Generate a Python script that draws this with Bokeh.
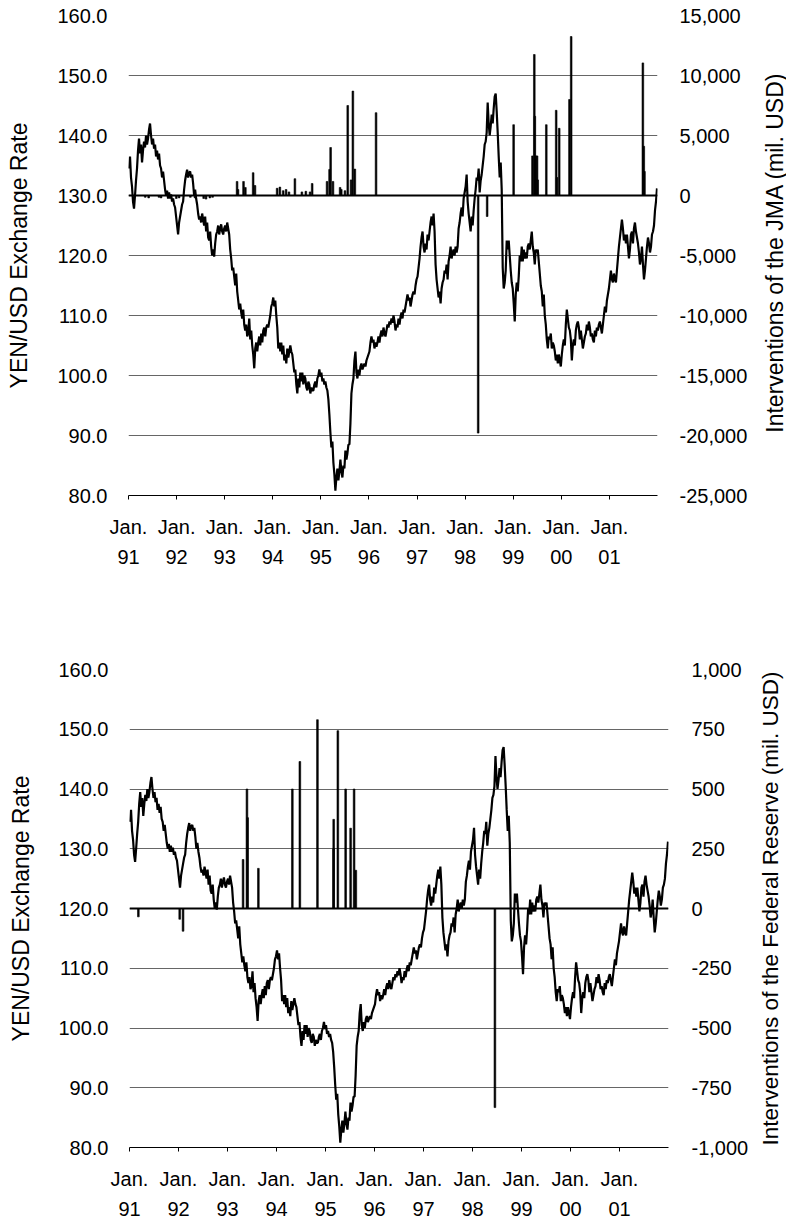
import math
import pandas as pd
from bokeh.plotting import figure
from bokeh.models import Range1d, LinearAxis, FixedTicker, Span, NumeralTickFormatter, ColumnDataSource, Label
from bokeh.layouts import column, row
from bokeh.embed import file_html
from bokeh.resources import INLINE

# ---------------- data ----------------
# Yen/USD exchange rate, roughly weekly readings (4 per month), one list per year
usdjpy_1991 = [134.5, 136.5, 133.0, 131.5, 129.0, 127.8, 130.0, 132.5, 134.5, 137.5, 139.5, 137.0,
               138.5, 135.5, 137.5, 139.0, 138.0, 140.0, 138.5, 139.5, 141.0, 142.0, 140.0, 138.5,
               139.5, 137.8, 138.5, 136.5, 137.5, 136.0, 137.0, 135.0, 134.5, 133.0, 134.0, 132.5,
               131.0, 130.0, 130.8, 129.5, 130.5, 129.5, 130.2, 129.0, 129.5, 128.5, 128.0, 126.5]
usdjpy_1992 = [125.0, 123.5, 125.5, 126.5, 127.5, 128.5, 129.0, 131.0, 132.5, 133.5, 134.3, 133.0,
               133.8, 134.0, 133.0, 133.5, 132.0, 130.0, 131.0, 129.5, 128.5, 127.0, 126.0, 126.5,
               125.5, 127.0, 126.0, 125.0, 126.5, 124.0, 125.5, 123.0, 122.5, 124.0, 121.5, 120.0,
               121.0, 119.8, 122.0, 123.5, 124.0, 125.0, 123.5, 124.5, 125.2, 124.0, 123.5, 124.5]
usdjpy_1993 = [125.0, 124.0, 125.5, 124.5, 123.5, 121.0, 119.5, 117.5, 118.0, 116.5, 115.0, 117.0,
               114.0, 112.5, 111.0, 112.0, 110.5, 109.5, 111.0, 108.5, 107.5, 108.5, 106.5, 107.0,
               109.5, 106.0, 107.5, 105.0, 103.5, 101.2, 104.5, 105.5, 104.0, 105.5, 106.5, 105.0,
               107.0, 105.5, 107.5, 108.0, 106.5, 108.0, 108.5, 108.0, 109.0, 110.0, 111.5, 112.0]
usdjpy_1994 = [113.0, 111.5, 112.5, 110.0, 108.0, 104.5, 105.5, 104.0, 105.5, 103.5, 105.0, 102.5,
               103.5, 102.0, 104.5, 103.0, 104.0, 105.0, 104.0, 103.5, 102.0, 100.5, 101.0, 98.5,
               97.0, 99.5, 98.0, 100.5, 99.0, 100.5, 98.5, 100.0, 99.5, 98.0, 97.5, 99.0,
               98.5, 97.0, 98.0, 97.5, 97.5, 98.5, 99.0, 98.0, 99.5, 100.0, 101.0, 99.8]
usdjpy_1995 = [100.5, 99.0, 99.5, 98.5, 99.0, 98.0, 97.5, 96.0, 93.5, 90.5, 88.0, 89.0,
               85.5, 83.5, 80.8, 83.0, 84.5, 82.5, 84.0, 86.0, 84.0, 83.0, 85.0, 84.5,
               87.5, 86.0, 87.0, 88.5, 88.5, 92.0, 97.0, 98.5, 99.5, 102.5, 104.0, 100.5,
               99.5, 101.0, 100.0, 101.5, 102.0, 101.0, 101.5, 102.0, 101.5, 102.5, 103.0, 103.5]
usdjpy_1996 = [104.0, 105.5, 106.5, 105.5, 106.0, 104.5, 105.5, 104.8, 105.5, 106.5, 105.5, 106.8,
               107.5, 106.5, 108.0, 107.0, 106.5, 107.5, 108.5, 108.0, 109.0, 108.5, 109.5, 108.8,
               110.0, 109.0, 107.5, 108.5, 108.0, 109.5, 108.5, 109.8, 110.5, 109.5, 111.0, 110.5,
               111.5, 112.5, 113.5, 112.5, 113.0, 111.5, 112.5, 113.5, 114.0, 113.5, 115.0, 116.0]
usdjpy_1997 = [116.5, 118.0, 119.5, 121.5, 123.0, 124.0, 121.5, 120.5, 122.0, 121.0, 123.5, 122.5,
               124.0, 125.5, 126.5, 125.0, 127.0, 124.0, 118.5, 116.0, 114.5, 113.0, 114.0, 112.0,
               114.5, 115.5, 116.0, 117.5, 117.0, 118.5, 116.0, 119.0, 120.0, 121.5, 119.5, 120.5,
               121.0, 120.0, 121.5, 120.5, 121.5, 124.5, 125.5, 127.0, 128.0, 126.5, 129.5, 130.5]
usdjpy_1998 = [131.5, 133.5, 129.0, 127.0, 125.5, 124.0, 126.5, 125.0, 127.5, 129.5, 131.0, 133.0,
               132.5, 134.5, 130.5, 132.5, 133.5, 135.0, 136.5, 138.5, 139.0, 140.5, 145.5, 142.0,
               140.0, 141.5, 143.5, 142.0, 144.5, 146.5, 147.0, 144.0, 140.5, 136.5, 133.0, 135.5,
               131.0, 118.0, 114.5, 115.5, 117.5, 122.5, 121.0, 122.5, 120.0, 117.5, 115.5, 114.5]
usdjpy_1999 = [112.0, 109.0, 113.5, 115.5, 114.0, 116.5, 120.0, 119.0, 121.5, 119.0, 121.0, 119.5,
               120.5, 119.5, 121.5, 122.0, 121.0, 122.5, 124.0, 121.5, 120.5, 118.5, 121.0, 120.5,
               121.0, 119.0, 117.0, 115.0, 114.0, 111.5, 113.5, 110.0, 108.5, 106.0, 104.5, 106.5,
               106.0, 107.0, 104.5, 105.5, 105.0, 104.0, 102.5, 103.5, 102.0, 103.5, 102.5, 101.5]
usdjpy_2000 = [103.5, 105.0, 106.0, 105.0, 108.5, 111.0, 109.5, 108.0, 107.5, 106.0, 102.5, 105.0,
               106.0, 105.0, 107.5, 108.5, 109.0, 108.0, 106.0, 107.5, 106.0, 104.5, 105.5, 106.5,
               107.0, 108.5, 107.5, 109.0, 108.0, 106.5, 107.0, 106.0, 105.5, 107.5, 106.5, 108.0,
               107.5, 108.5, 109.0, 108.0, 107.0, 108.5, 110.0, 111.5, 110.5, 112.5, 113.5, 114.5]
usdjpy_2001 = [116.0, 117.5, 116.0, 115.5, 117.0, 116.0, 115.5, 117.5, 119.5, 121.5, 123.0, 124.5,
               126.0, 124.5, 122.5, 123.5, 122.0, 123.5, 121.5, 119.5, 121.0, 123.5, 124.0, 122.0,
               124.5, 125.5, 124.0, 123.0, 122.0, 120.5, 118.5, 119.5, 121.5, 118.5, 116.0, 117.5,
               119.5, 121.5, 123.0, 122.0, 120.5, 121.5, 123.5, 124.0, 125.0, 127.5, 129.0, 131.2]

# Interventions of the JMA (mil. USD)
jma_dates = ["1991-05-08", "1991-06-03", "1991-08-20", "1991-09-05", "1991-11-13", "1991-12-30",
             "1992-01-20", "1992-04-15", "1992-05-20", "1992-07-25", "1992-08-12", "1992-09-10",
             "1992-10-01",
             "1993-04-05", "1993-04-12", "1993-05-24", "1993-06-07", "1993-08-05", "1993-08-19",
             "1994-02-03", "1994-02-24", "1994-03-21", "1994-04-12", "1994-05-04", "1994-06-18",
             "1994-08-10", "1994-09-09", "1994-10-11", "1994-10-27",
             "1995-02-17", "1995-03-08", "1995-03-16", "1995-04-03", "1995-05-27", "1995-06-05",
             "1995-07-03", "1995-07-24", "1995-08-18", "1995-09-01", "1995-09-16",
             "1996-02-24",
             "1998-04-10", "1998-06-17",
             "1999-01-04", "1999-05-27", "1999-06-10", "1999-06-14", "1999-06-21", "1999-07-01",
             "1999-07-06", "1999-09-09", "1999-11-23", "1999-11-29", "1999-12-16",
             "2000-03-03", "2000-03-16",
             "2001-09-12", "2001-09-19", "2001-09-24"]
jma_values = [-150, -200, -150, -200, -150, -250,
              -200, -150, -200, -250, -300, -200,
              -150,
              1170, 500, 1170, 670, 1900, 830,
              600, 700, 400, 500, 300, 1400,
              300, 350, 300, 1000,
              1170, 2170, 4000, 1170, 670, 500,
              400, 7500, 1300, 8700, 2200,
              6900,
              -19800, -1750,
              5900, 3300, 11750, 6600, 3300, 3300,
              1300, 5900, 7100, 1500, 5600,
              8000, 13250,
              11050, 4100, 2000]

# Interventions of the Federal Reserve (mil. USD)
fed_dates = ["1991-03-08", "1992-01-10", "1992-02-04",
             "1993-04-27", "1993-05-26", "1993-05-31", "1993-08-19",
             "1994-04-29", "1994-06-24", "1994-11-02",
             "1995-03-02", "1995-03-03", "1995-04-03", "1995-05-31", "1995-07-07",
             "1995-08-02", "1995-08-15",
             "1998-06-17"]
fed_values = [-35, -45, -95,
              205, 500, 380, 168,
              500, 615, 790,
              250, 373, 744, 500, 336,
              500, 160,
              -833]

years = list(range(1991, 2002))
year_top = ["Jan."] * len(years)
year_bottom = ["91", "92", "93", "94", "95", "96", "97", "98", "99", "00", "01"]
left_ticks = [80, 90, 100, 110, 120, 130, 140, 150, 160]

# ---------------- helpers ----------------
rate_lists = [usdjpy_1991, usdjpy_1992, usdjpy_1993, usdjpy_1994, usdjpy_1995, usdjpy_1996,
              usdjpy_1997, usdjpy_1998, usdjpy_1999, usdjpy_2000, usdjpy_2001]
rate_t, rate_v = [], []
for yr, vals in zip(years, rate_lists):
    n = len(vals)
    for i, v in enumerate(vals):
        rate_t.append(yr + (i + 0.5) / n)
        rate_v.append(v)


def dec_year(s):
    d = pd.Timestamp(s)
    a = pd.Timestamp(year=d.year, month=1, day=1)
    b = pd.Timestamp(year=d.year + 1, month=1, day=1)
    return d.year + (d - a) / (b - a)


FONT = "Liberation Sans"
X0, X1 = 1991, 2002
Y0, Y1 = 80, 160


def make_panel(width, height, border_left, border_right, border_top, border_bottom,
               left_standoff, right_label_standoff,
               bar_dates, bar_values, right_start, right_end, right_ticks):
    p = figure(width=width, height=height, x_range=Range1d(X0, X1), y_range=Range1d(Y0, Y1),
               output_backend="svg", toolbar_location=None,
               min_border_left=border_left, min_border_right=border_right,
               min_border_top=border_top, min_border_bottom=border_bottom)
    p.outline_line_color = None
    p.background_fill_color = "white"
    p.border_fill_color = "white"
    p.xgrid.visible = False
    p.ygrid.ticker = FixedTicker(ticks=left_ticks)
    p.ygrid.grid_line_color = "#666666"
    p.ygrid.grid_line_width = 1

    p.extra_y_ranges = {"iv": Range1d(right_start, right_end)}

    # left axis
    ya = p.yaxis[0]
    ya.ticker = FixedTicker(ticks=left_ticks)
    ya.formatter = NumeralTickFormatter(format="0.0")
    ya.axis_line_color = None
    ya.major_tick_line_color = None
    ya.minor_tick_line_color = None
    ya.major_label_text_font = FONT
    ya.major_label_text_font_size = "20px"
    ya.major_label_text_color = "black"
    ya.major_label_standoff = 15
    ya.axis_label = "YEN/USD Exchange Rate"
    ya.axis_label_text_font = FONT
    ya.axis_label_text_font_size = "23px"
    ya.axis_label_text_font_style = "normal"
    ya.axis_label_text_color = "black"
    ya.axis_label_standoff = left_standoff

    # right axis (tick labels only)
    ra = LinearAxis(y_range_name="iv", ticker=FixedTicker(ticks=right_ticks),
                    formatter=NumeralTickFormatter(format="0,0"))
    ra.axis_line_color = None
    ra.major_tick_line_color = None
    ra.minor_tick_line_color = None
    ra.major_label_text_font = FONT
    ra.major_label_text_font_size = "20px"
    ra.major_label_text_color = "black"
    ra.major_label_standoff = right_label_standoff
    p.add_layout(ra, "right")

    # bottom axis: two rows of labels
    xa = p.xaxis[0]
    xa.ticker = FixedTicker(ticks=years)
    xa.major_label_overrides = {y: t for y, t in zip(years, year_top)}
    xa.axis_line_color = "black"
    xa.axis_line_width = 1
    xa.major_tick_line_color = "black"
    xa.major_tick_out = 4
    xa.major_tick_in = 0
    xa.minor_tick_line_color = None
    xa.major_label_text_font = FONT
    xa.major_label_text_font_size = "20px"
    xa.major_label_text_color = "black"
    xa.major_label_standoff = 16

    xb = LinearAxis(ticker=FixedTicker(ticks=years))
    xb.major_label_overrides = {y: t for y, t in zip(years, year_bottom)}
    xb.axis_line_color = None
    xb.major_tick_line_color = None
    xb.minor_tick_line_color = None
    xb.major_label_text_font = FONT
    xb.major_label_text_font_size = "20px"
    xb.major_label_text_color = "black"
    xb.major_label_standoff = 3
    p.add_layout(xb, "below")

    # intervention bars
    src = ColumnDataSource(dict(t=[dec_year(d) for d in bar_dates], v=bar_values))
    p.vbar(x="t", top="v", bottom=0, width=0.035, source=src, y_range_name="iv",
           fill_color="black", line_color="black", line_width=0.6)

    # zero line of the intervention axis
    p.add_layout(Span(location=0, dimension="width", y_range_name="iv",
                      line_color="black", line_width=2))

    # exchange rate
    p.line(rate_t, rate_v, line_color="black", line_width=2.2)
    return p


def title_strip(width, height, text, cx, cy, size):
    """A narrow blank figure (frame aligned with the panel's) carrying the right-hand
    axis title, which reads bottom-to-top; cy is in the panel's yen units."""
    t = figure(width=width, height=height, x_range=Range1d(0, width), y_range=Range1d(Y0, Y1),
               output_backend="svg", toolbar_location=None, min_border=0,
               x_axis_location=None, y_axis_location=None)
    t.outline_line_color = None
    t.grid.visible = False
    t.background_fill_color = "white"
    t.border_fill_color = "white"
    t.add_layout(Label(x=cx, y=cy, text=text, angle=math.pi / 2,
                       text_align="center", text_baseline="middle",
                       text_font=FONT, text_font_size=size, text_color="black"))
    return t


p1 = make_panel(762, 640, 128, 105, 15, 145, 22, 16, jma_dates, jma_values,
                -25000, 15000, [-25000, -20000, -15000, -10000, -5000, 0, 5000, 10000, 15000])
t1 = title_strip(24, 640, "Interventions of the JMA (mil. USD)", 12, 120.5, "23px")

p2 = make_panel(757, 579, 129, 89, 29, 72, 21, 17, fed_dates, fed_values,
                -1000, 1000, [-1000, -750, -500, -250, 0, 250, 500, 750, 1000])
t2 = title_strip(29, 579, "Interventions of the Federal Reserve (mil. USD)", 13, 120.0, "22.5px")

layout = column(row(p1, t1, spacing=0), row(p2, t2, spacing=0), spacing=0)
open("out.html", "w").write(file_html(layout, INLINE))
